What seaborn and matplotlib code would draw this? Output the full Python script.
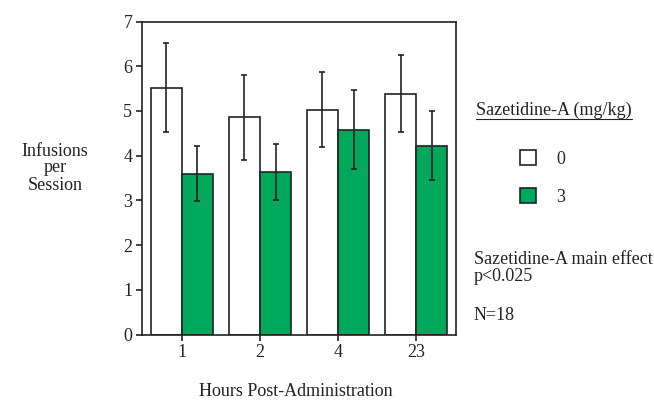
import matplotlib.pyplot as plt
import pandas as pd
import seaborn as sns
from matplotlib.lines import Line2D

HOURS = ["1", "2", "4", "23"]
DOSES = ["0", "3"]
MEAN_DOSE_0 = [5.52, 4.86, 5.03, 5.38]
SEM_DOSE_0 = [1.00, 0.95, 0.84, 0.86]
MEAN_DOSE_3 = [3.60, 3.63, 4.58, 4.22]
SEM_DOSE_3 = [0.61, 0.62, 0.88, 0.77]

GREEN = "#00A85C"
EDGE = "#222222"
FS = 13

sns.set_theme(style="white")
plt.rcParams["font.family"] = ["Liberation Serif", "DejaVu Serif"]
plt.rcParams["font.size"] = FS


def build_frame() -> pd.DataFrame:
    rows = []
    for dose, means, sems in [
        (DOSES[0], MEAN_DOSE_0, SEM_DOSE_0),
        (DOSES[1], MEAN_DOSE_3, SEM_DOSE_3),
    ]:
        for hour, m, s in zip(HOURS, means, sems):
            rows.append({"hours": hour, "dose": dose, "mean": m, "sem": s})
    return pd.DataFrame(rows)


def fx(px):
    return px / 654


def fy(py):
    return 1 - py / 401


def main() -> None:
    df = build_frame()
    fig, ax = plt.subplots(figsize=(6.54, 4.01), dpi=100)
    fig.subplots_adjust(left=fx(142), right=fx(456), top=fy(21.5), bottom=fy(334.5))

    sns.barplot(
        data=df, x="hours", y="mean", hue="dose", order=HOURS, hue_order=DOSES,
        palette={"0": "white", "3": GREEN}, edgecolor=EDGE, linewidth=1.2,
        errorbar=None, width=0.8, saturation=1, ax=ax,
    )

    # error bars at the centre of each bar
    for container, dose in zip(ax.containers, DOSES):
        sub = df[df["dose"] == dose].set_index("hours").loc[HOURS]
        xs = [p.get_x() + p.get_width() / 2 for p in container.patches]
        ax.errorbar(
            xs, sub["mean"], yerr=sub["sem"], fmt="none", ecolor=EDGE,
            elinewidth=1.2, capsize=2.5, capthick=1.2, zorder=5,
        )

    ax.set_ylim(0, 7)
    ax.set_xlim(-0.51, 3.51)
    ax.set_yticks(range(8))
    for side in ["left", "bottom", "top", "right"]:
        ax.spines[side].set_visible(True)
        ax.spines[side].set_color(EDGE)
        ax.spines[side].set_linewidth(1.2)
    ax.tick_params(axis="both", direction="out", length=4, width=1.2, color=EDGE,
                   labelsize=FS, labelcolor="#222222", left=True, bottom=True, pad=3)

    ax.set_xlabel("")
    ax.set_ylabel("")
    fig.text(fx(296), fy(392), "Hours Post-Administration", ha="center", va="center",
             fontsize=FS, color="#222222")
    fig.text(fx(55), fy(168), "Infusions\nper\nSession", ha="center", va="center",
             fontsize=FS, color="#222222", linespacing=1.0)

    handles, labels = ax.get_legend_handles_labels()
    ax.legend(
        handles, labels, loc="center left", bbox_to_anchor=(fx(520), fy(178)),
        bbox_transform=fig.transFigure, frameon=False, fontsize=FS,
        handlelength=0.9, handleheight=0.9, handletextpad=1.1, labelspacing=1.15,
        borderaxespad=0, borderpad=0,
    )

    title = fig.text(fx(476), fy(110), "Sazetidine-A (mg/kg)", ha="left",
                     va="center", fontsize=FS, color="#222222")
    fig.canvas.draw()
    bb = title.get_window_extent().transformed(fig.transFigure.inverted())
    fig.add_artist(Line2D([bb.x0, bb.x1], [fy(119), fy(119)],
                          transform=fig.transFigure, color="#222222", lw=0.8))

    fig.text(fx(474), fy(268), "Sazetidine-A main effect\np<0.025", ha="left",
             va="center", fontsize=FS, color="#222222", linespacing=1.05)
    fig.text(fx(474), fy(316), "N=18", ha="left", va="center", fontsize=FS,
             color="#222222")

    fig.savefig("out.png", dpi=100)
    plt.close(fig)


if __name__ == "__main__":
    main()
